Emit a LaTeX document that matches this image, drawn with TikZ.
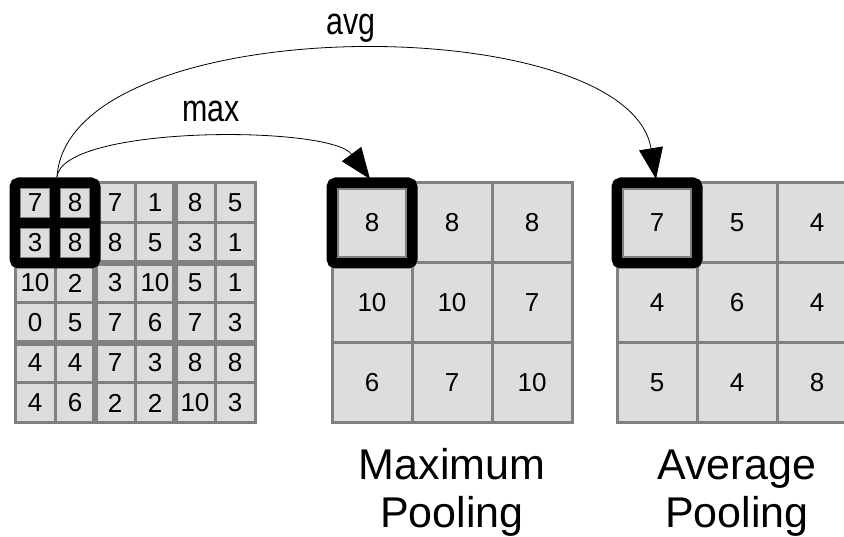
\documentclass[tikz,border=0pt]{standalone}
\usepackage{fontspec}
\usepackage{graphicx}
\setmainfont{Liberation Sans}
\usetikzlibrary{arrows.meta,calc}
\definecolor{cellfill}{HTML}{DDDDDD}
\definecolor{cellline}{HTML}{808080}
\begin{document}
\begin{tikzpicture}[x=1pt,y=-1pt,
  cell/.style={draw=cellline, fill=cellfill, line width=3pt, inner sep=0pt, outer sep=0pt, minimum size=#1, font=\fontsize{26}{30}\selectfont},
  frame/.style={draw=black, line width=11pt, rounded corners=4pt},
  blackline/.style={draw=black, line width=10pt},
  blockline/.style={draw=cellline, line width=6pt},
  ring/.style={draw=cellline, line width=1.5pt},
  arc/.style={draw=black, line width=0.8pt, -{Triangle[length=31pt,width=24pt]}},
  lbl/.style={font=\fontsize{38}{40}\selectfont, anchor=base, inner sep=0pt},
  title/.style={font=\fontsize{43}{48}\selectfont, anchor=base, inner sep=0pt}]
\useasboundingbox (0,0) rectangle (844,537);
\clip (0,0) rectangle (844,537);

% left input grid
\foreach \row [count=\r] in {{7,8,7,1,8,5},{3,8,8,5,3,1},{10,2,3,10,5,1},{0,5,7,6,7,3},{4,4,7,3,8,8},{4,6,2,2,10,3}} {
  \foreach \v [count=\c] in \row {
    \node[cell=40pt] (L-\r-\c) at ({35+40*(\c-1)},{203+40*(\r-1)}) {\v};
  }
}
\draw[blockline] (L-1-2.north east) -- (L-6-2.south east);
\draw[blockline] (L-1-4.north east) -- (L-6-4.south east);
\draw[blockline] (L-2-1.south west) -- (L-2-6.south east);
\draw[blockline] (L-4-1.south west) -- (L-4-6.south east);

% middle grid
\foreach \row [count=\r] in {{8,8,8},{10,10,7},{6,7,10}} {
  \foreach \v [count=\c] in \row {
    \node[cell=80pt] (M-\r-\c) at ({372+80*(\c-1)},{223+80*(\r-1)}) {\v};
  }
}
% right grid
\foreach \row [count=\r] in {{7,5,4},{4,6,4},{5,4,8}} {
  \foreach \v [count=\c] in \row {
    \node[cell=80pt] (A-\r-\c) at ({657+80*(\c-1)},{223+80*(\r-1)}) {\v};
  }
}

% black frames
\draw[frame] (L-1-1.north west) rectangle (L-2-2.south east);
\draw[blackline] (L-1-1.north east) -- (L-2-1.south east);
\draw[blackline] (L-1-1.south west) -- (L-1-2.south east);
\foreach \n in {L-1-1,L-1-2,L-2-1,L-2-2} {
  \draw[ring] ($(\n.north west)+(5.5,5.5)$) rectangle ($(\n.south east)+(-5.5,-5.5)$);
}
\draw[frame] (M-1-1.north west) rectangle (M-1-1.south east);
\draw[ring] ($(M-1-1.north west)+(6,6)$) rectangle ($(M-1-1.south east)+(-6,-6)$);
\draw[frame] (A-1-1.north west) rectangle (A-1-1.south east);
\draw[ring] ($(A-1-1.north west)+(6,6)$) rectangle ($(A-1-1.south east)+(-6,-6)$);

% connectors
\coordinate (src) at ($(L-1-1.north east)+(2,-6)$);
\coordinate (maxT) at ($(M-1-1.north)+(-2,-4)$);
\coordinate (avgT) at ($(A-1-1.north)+(-1,-4)$);
\draw[arc] (src) .. controls (62,125) and (330,125) .. (maxT);
\draw[arc] (src) .. controls (68,8) and (628,8) .. (avgT);

% labels
\node[lbl] (maxlbl) at (211,122) {\scalebox{0.8}[1]{max}};
\node[lbl] (avglbl) at (351,35) {\scalebox{0.8}[1]{avg}};
\node[title] (t1a) at (452,479) {Maximum};
\node[title] (t1b) at (452,527) {Pooling};
\node[title] (t2a) at (737,479) {Average};
\node[title] (t2b) at (737,527) {Pooling};
\end{tikzpicture}
\end{document}
